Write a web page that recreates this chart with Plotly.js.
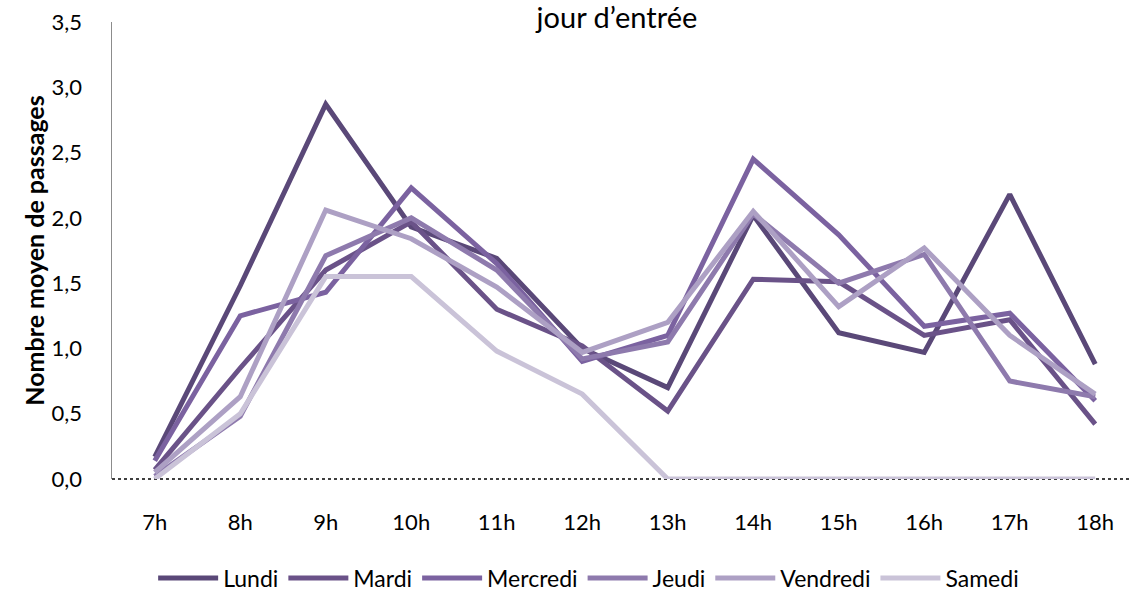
<!DOCTYPE html>
<html>
<head>
<meta charset="utf-8">
<script src="https://cdn.plot.ly/plotly-3.0.1.min.js"></script>
<style>html,body{margin:0;padding:0;background:#fff;}#chart{width:1132px;height:592px;}</style>
</head>
<body>
<div id="chart"></div>
<script>
const hours = ["7h","8h","9h","10h","11h","12h","13h","14h","15h","16h","17h","18h"];
const lundi    = [0.17,1.48,2.87,1.93,1.69,1.00,0.70,2.02,1.12,0.97,2.18,0.88];
const mardi    = [0.07,0.85,1.60,1.97,1.30,1.02,0.52,1.53,1.51,1.10,1.22,0.42];
const mercredi = [0.14,1.25,1.43,2.23,1.65,0.90,1.10,2.45,1.87,1.17,1.27,0.60];
const jeudi    = [0.02,0.48,1.71,2.00,1.60,0.92,1.05,2.03,1.50,1.72,0.75,0.63];
const vendredi = [0.05,0.63,2.06,1.84,1.47,0.97,1.20,2.05,1.32,1.77,1.10,0.65];
const samedi   = [0.00,0.50,1.55,1.55,0.98,0.65,0.00,0.00,0.00,0.00,0.00,0.00];
const yTicks = [0,0.5,1,1.5,2,2.5,3,3.5];
const yTickText = ["0,0","0,5","1,0","1,5","2,0","2,5","3,0","3,5"];

const series = [
  {name:"Lundi", y:lundi, color:"#5a4878"},
  {name:"Mardi", y:mardi, color:"#6a5288"},
  {name:"Mercredi", y:mercredi, color:"#7b62a0"},
  {name:"Jeudi", y:jeudi, color:"#8e7aad"},
  {name:"Vendredi", y:vendredi, color:"#ada0c4"},
  {name:"Samedi", y:samedi, color:"#cac3d8"}
];
const FONT = "Lato, 'Open Sans', sans-serif";
const traces = series.map(s => ({
  type:"scatter", mode:"lines", name:s.name, x:hours, y:s.y,
  line:{color:s.color, width:5}, hoverinfo:"skip"
}));

const layout = {
  width:1132, height:592,
  margin:{l:112, r:0, t:22, b:113},
  paper_bgcolor:"#fff", plot_bgcolor:"#fff",
  font:{family:FONT, size:22, color:"#000"},
  title:{text:"jour d’entrée", font:{family:FONT, size:29, color:"#000"},
         x:0.545, xanchor:"center", xref:"container", y:1-18/592, yref:"container", yanchor:"middle"},
  xaxis:{type:"category", range:[-0.5, 11.43], showgrid:false, zeroline:false, showline:false,
         ticks:"", ticklabelstandoff:28, tickfont:{family:FONT, size:22, color:"#000"}},
  yaxis:{range:[0,3.5], tickvals:yTicks, ticktext:yTickText, showgrid:false, zeroline:false,
         showline:true, linecolor:"#8c8c8c", linewidth:1.5, ticks:"", ticklabelstandoff:24,
         tickfont:{family:FONT, size:22, color:"#000"},
         title:{text:"<b>Nombre moyen de passages</b>", font:{family:FONT, size:25, color:"#000"}, standoff:0}},
  shapes:[{type:"line", xref:"paper", yref:"paper", x0:0, x1:1, y0:0, y1:0,
           line:{color:"#000", width:1.5, dash:"dot"}, layer:"below"}],
  showlegend:true,
  legend:{orientation:"h", x:0.52, xanchor:"center", xref:"container", y:1-578/592, yref:"container", yanchor:"middle",
          font:{family:FONT, size:23, color:"#000"}, itemwidth:60, tracegroupgap:0}
};
Plotly.newPlot("chart", traces, layout, {displayModeBar:false, staticPlot:true});
</script>
</body>
</html>
